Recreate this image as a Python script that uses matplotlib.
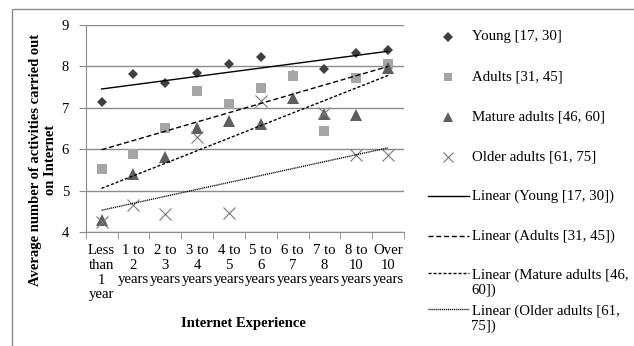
import numpy as np
import matplotlib.pyplot as plt
from matplotlib.lines import Line2D
from matplotlib.patches import Rectangle

plt.rcParams['font.family'] = ['Liberation Serif', 'DejaVu Serif']

W, H = 634, 346

categories = ["Less\nthan\n1\nyear", "1 to\n2\nyears", "2 to\n3\nyears", "3 to\n4\nyears",
              "4 to\n5\nyears", "5 to\n6\nyears", "6 to\n7\nyears", "7 to\n8\nyears",
              "8 to\n10\nyears", "Over\n10\nyears"]

young = [7.13, 7.81, 7.60, 7.83, 8.05, 8.23, 7.80, 7.93, 8.33, 8.39]
adults = [5.53, 5.88, 6.52, 7.41, 7.09, 7.49, 7.78, 6.43, 7.73, 8.07]
mature = [4.30, 5.41, 5.81, 6.52, 6.68, 6.60, 7.23, 6.86, 6.82, 7.95]
older = [4.24, 4.66, 4.44, 6.30, 4.47, 7.17, 2.94, 6.88, 5.85, 5.85]

names = ["Young [17, 30]", "Adults [31, 45]", "Mature adults [46, 60]", "Older adults [61, 75]"]
trend_names = ["Linear (Young [17, 30])", "Linear (Adults [31, 45])",
               "Linear (Mature adults [46,\n60])", "Linear (Older adults [61,\n75])"]

# marker, size, legend size, colour, edge width
styles = [("D", 5.3, 4.8, "#3f3f3f", 0.0),
          ("s", 7.4, 6.0, "#a5a5a5", 0.0),
          ("^", 8.4, 6.8, "#5e5e5e", 0.0),
          ("x", 8.0, 7.0, "#7a7a7a", 0.8)]
trend_dashes = [None, (3.6, 2.0), (2.2, 1.4), (0.8, 0.6)]

grey = "#8c8c8c"


def px(x, y):
    return x / W, 1 - y / H


fig = plt.figure(figsize=(W / 100, H / 100), dpi=100)
fig.patches.append(Rectangle(px(11.7, 360), 700 / W, 350.7 / H, transform=fig.transFigure,
                             fill=False, edgecolor=grey, lw=1.0))

ax = fig.add_axes([85.7 / W, 1 - 232 / H, (404 - 85.7) / W, (232 - 25) / H])
x = np.arange(1, len(categories) + 1)

for vals, (mk, ms, _, col, mew) in zip([young, adults, mature, older], styles):
    ax.plot(x, vals, linestyle="none", marker=mk, markersize=ms, color=col,
            markeredgewidth=mew, zorder=3)

# linear trend lines
for vals, dash in zip([young, adults, mature, older], trend_dashes):
    coef = np.polyfit(x, vals, 1)
    ends = x[[0, -1]]
    line, = ax.plot(ends, np.polyval(coef, ends), color="black", lw=1.0, zorder=4)
    if dash:
        line.set_dashes(dash)

ax.set_xlim(0.5, 10.5)
ax.set_ylim(4, 9)
ax.set_yticks(range(4, 10))
ax.yaxis.grid(True, color=grey, lw=1.0)
ax.set_axisbelow(True)
for s in ["top", "right"]:
    ax.spines[s].set_visible(False)
for s in ["left", "bottom"]:
    ax.spines[s].set_color(grey)

ax.set_xticks(x)
ax.set_xticklabels(categories, linespacing=1.15)
ax.set_xticks(np.arange(0.5, 11), minor=True)
ax.tick_params(axis="x", which="major", length=0, pad=9, labelsize=10.6)
ax.tick_params(axis="x", which="minor", length=5, color=grey)
ax.tick_params(axis="y", length=5, color=grey, pad=7, labelsize=10.5)

fig.text(*px(43.5, 160), "Average number of activities carried out\non Internet", rotation=90,
         ha="center", va="center", fontweight="bold", fontsize=10.5, linespacing=1.2,
         multialignment="center")
fig.text(*px(243.7, 323), "Internet Experience", ha="center", va="center",
         fontweight="bold", fontsize=10.5)

# legend down the right side
legend_y = [36.7, 76.7, 116.7, 156.7, 196, 236, 273.3, 309.3]
for i, (name, (mk, _, lms, col, mew)) in enumerate(zip(names, styles)):
    fig.add_artist(Line2D([448.3 / W], [1 - legend_y[i] / H], transform=fig.transFigure,
                          linestyle="none", marker=mk, markersize=lms, color=col,
                          markeredgewidth=mew))
    fig.text(*px(471.5, legend_y[i]), name, ha="left", va="center", fontsize=10.7)

for j, (name, dash) in enumerate(zip(trend_names, trend_dashes)):
    y = legend_y[4 + j]
    ln = Line2D([428.3 / W, 469 / W], [1 - y / H] * 2, transform=fig.transFigure,
                color="black", lw=1.0)
    if dash:
        ln.set_dashes(dash)
    fig.add_artist(ln)
    if "\n" in name:
        fig.text(*px(471.5, y + 9.2), name, ha="left", va="center", fontsize=10.7,
                 linespacing=1.15)
    else:
        fig.text(*px(471.5, y), name, ha="left", va="center", fontsize=10.7)

fig.savefig("out.png", dpi=100)
